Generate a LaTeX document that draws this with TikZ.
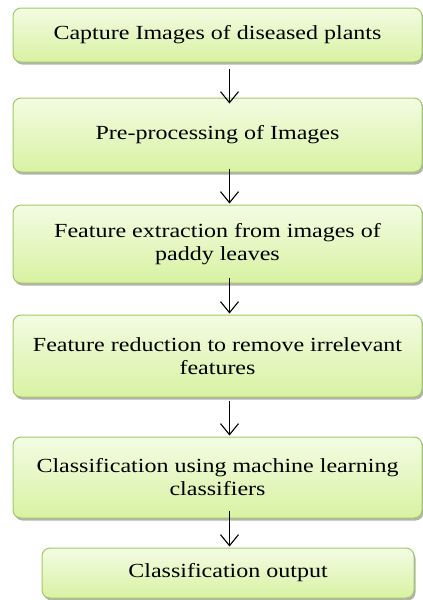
\documentclass[tikz,border=0pt]{standalone}
\usepackage{fontspec}
\setmainfont{Liberation Serif}[FakeStretch=1.2]
\usetikzlibrary{arrows.meta,shadows}

\definecolor{stageTop}{HTML}{F3FCE3}
\definecolor{stageBot}{HTML}{D8F2A2}
\definecolor{stageLine}{HTML}{A2C866}

\tikzset{
  stagebox/.style={
    draw=stageLine, line width=1pt, rounded corners=8pt,
    top color=stageTop, bottom color=stageBot,
    align=center, inner sep=0pt,
    font=\fontsize{20}{23}\selectfont,
    drop shadow={shadow xshift=1.5pt, shadow yshift=-2.5pt,
                 fill=black!55, opacity=0.55}
  },
  flow/.style={draw=black, line width=1.1pt,
    -{Straight Barb[length=11pt,width=18pt,line width=1.1pt]}}
}

\begin{document}
\begin{tikzpicture}[x=1pt,y=1pt]
  \useasboundingbox (0,0) rectangle (423,-600);

  % process stages, top to bottom
  \node[stagebox, minimum width=409pt, minimum height=54pt] (b1) at (217.5,-35)
    {Capture Images of diseased plants};
  \node[stagebox, minimum width=409pt, minimum height=74pt] (b2) at (217.5,-135)
    {Pre-processing of Images};
  \node[stagebox, minimum width=409pt, minimum height=78pt] (b3) at (217.5,-244)
    {Feature extraction from images of\\paddy leaves};
  \node[stagebox, minimum width=409pt, minimum height=82pt] (b4) at (217.5,-356)
    {Feature reduction to remove irrelevant\\features};
  \node[stagebox, minimum width=409pt, minimum height=81pt] (b5) at (217.5,-477.5)
    {Classification using machine learning\\classifiers};
  \node[stagebox, minimum width=372pt, minimum height=50pt] (b6) at (228,-573)
    {Classification output};

  % common x position of the connecting arrows
  \coordinate (ax) at (229.5,0);

  \draw[flow, shorten <=6pt, shorten >=-6pt] (b1.south -| ax) -- (b2.north -| ax);
  \draw[flow, shorten <=-4pt, shorten >=1pt] (b2.south -| ax) -- (b3.north -| ax);
  \draw[flow, shorten <=-6pt, shorten >=1pt] (b3.south -| ax) -- (b4.north -| ax);
  \draw[flow, shorten <=3pt, shorten >=1pt] (b4.south -| ax) -- (b5.north -| ax);
  \draw[flow, shorten <=-8pt, shorten >=1pt] (b5.south -| ax) -- (b6.north -| ax);
\end{tikzpicture}
\end{document}
